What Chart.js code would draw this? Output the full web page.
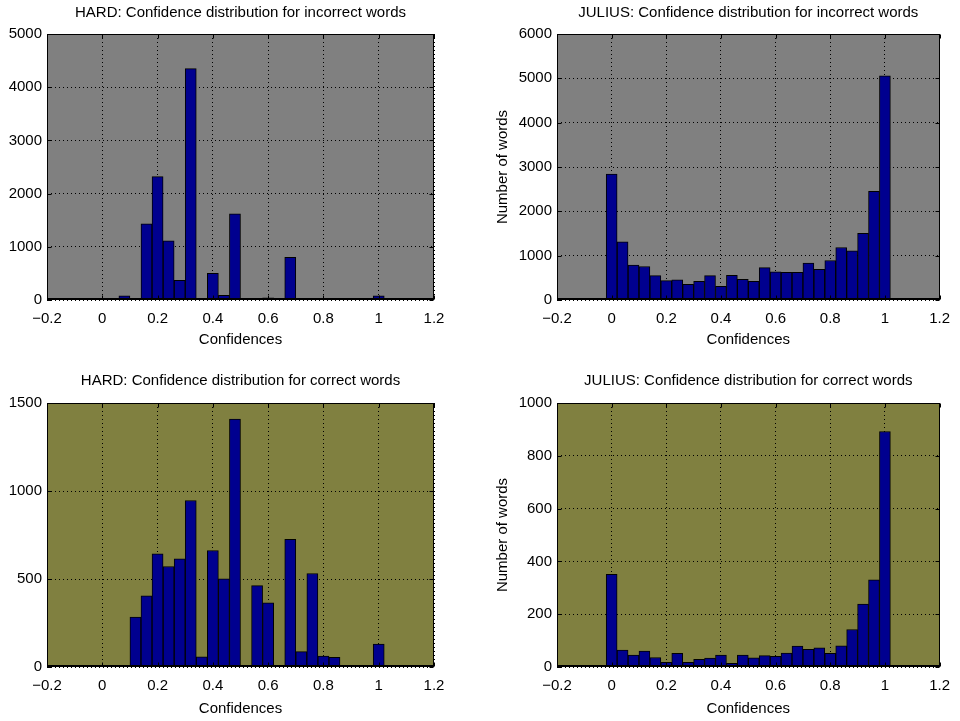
<!DOCTYPE html>
<html lang="en">
<head>
    <meta charset="UTF-8">
    <title>Confidence distributions: HARD vs JULIUS</title>
    <style>
        body {
            margin: 0;
            background: #fff;
            width: 960px;
            height: 721px;
            position: relative;
            overflow: hidden;
        }
        .panel {
            position: absolute;
        }
        canvas {
            display: block;
        }
    </style>
</head>
<body>
    <div class="panel" style="left:0;top:0"><canvas id="hardIncorrect" width="480" height="360"></canvas></div>
    <div class="panel" style="left:480px;top:0"><canvas id="juliusIncorrect" width="480" height="360"></canvas></div>
    <div class="panel" style="left:0;top:360px"><canvas id="hardCorrect" width="480" height="361"></canvas></div>
    <div class="panel" style="left:480px;top:360px"><canvas id="juliusCorrect" width="480" height="361"></canvas></div>

    <script src="https://cdn.jsdelivr.net/npm/chart.js"></script>
    <script>
        // histogram bin centres (bin width 0.04)
        const binCenters = [0, 0.04, 0.08, 0.12, 0.16, 0.2, 0.24, 0.28, 0.32, 0.36, 0.4, 0.44, 0.48,
                            0.52, 0.56, 0.6, 0.64, 0.68, 0.72, 0.76, 0.8, 0.84, 0.88, 0.92, 0.96, 1];

        // word counts per bin
        const hardIncorrect = [0, 0, 80, 25, 1430, 2320, 1110, 370, 4350, 0, 500, 90, 1620,
                               0, 0, 40, 0, 800, 0, 8, 0, 0, 0, 0, 0, 80];
        const juliusIncorrect = [2840, 1310, 790, 755, 550, 438, 453, 355, 423, 551, 309, 558, 468,
                                 423, 732, 634, 626, 626, 830, 694, 890, 1185, 1109, 1502, 2453, 5057];
        const hardCorrect = [0, 3, 10, 283, 405, 643, 571, 614, 946, 58, 662, 501, 1408,
                             0, 462, 364, 8, 726, 87, 531, 62, 55, 0, 0, 0, 130];
        const juliusCorrect = [351, 64, 45, 60, 36, 18, 52, 18, 29, 34, 45, 14, 45,
                               35, 43, 40, 53, 79, 67, 73, 52, 80, 142, 238, 330, 892];

        // axis ticks
        const xTicks = [-0.2, 0, 0.2, 0.4, 0.6, 0.8, 1, 1.2];
        const hardIncorrectTicks = [0, 1000, 2000, 3000, 4000, 5000];
        const juliusIncorrectTicks = [0, 1000, 2000, 3000, 4000, 5000, 6000];
        const hardCorrectTicks = [0, 500, 1000, 1500];
        const juliusCorrectTicks = [0, 200, 400, 600, 800, 1000];

        Chart.defaults.font.family = "'Liberation Sans', Arial, Helvetica, sans-serif";
        Chart.defaults.font.size = 15;
        Chart.defaults.color = '#000';

        // axes background, box and inward tick marks (matlab look)
        const frame = {
            id: 'frame',
            beforeDraw(chart, args, opts) {
                const { ctx, chartArea: a } = chart;
                ctx.save();
                ctx.fillStyle = opts.color;
                ctx.fillRect(a.left, a.top, a.width, a.height);
                ctx.restore();
            },
            afterDatasetsDraw(chart) {
                const { ctx, chartArea: a, scales } = chart;
                const L = Math.round(a.left) + 0.5, R = Math.round(a.right) - 0.5;
                const T = Math.round(a.top) + 0.5, B = Math.round(a.bottom) - 0.5;
                ctx.save();
                ctx.strokeStyle = '#000';
                ctx.lineWidth = 1;
                ctx.beginPath();
                scales.x.ticks.forEach(t => {
                    const px = Math.round(scales.x.getPixelForValue(t.value)) + 0.5;
                    ctx.moveTo(px, B); ctx.lineTo(px, B - 4);
                    ctx.moveTo(px, T); ctx.lineTo(px, T + 4);
                });
                scales.y.ticks.forEach(t => {
                    const py = Math.round(scales.y.getPixelForValue(t.value)) + 0.5;
                    ctx.moveTo(L, py); ctx.lineTo(L + 4, py);
                    ctx.moveTo(R, py); ctx.lineTo(R - 4, py);
                });
                ctx.stroke();
                ctx.strokeRect(L, T, R - L, B - T);
                // heavier baseline
                ctx.beginPath();
                ctx.lineWidth = 2;
                ctx.moveTo(L, Math.round(a.bottom) - 1);
                ctx.lineTo(R, Math.round(a.bottom) - 1);
                ctx.stroke();
                ctx.restore();
            }
        };

        function fmtX(v) {
            return (Math.round(v * 10) / 10).toString().replace('-', '\u2212');
        }

        function makeChart(id, title, values, yTicks, bg, yTitle, g) {
            const ctx = document.getElementById(id).getContext('2d');
            return new Chart(ctx, {
                type: 'bar',
                data: {
                    datasets: [{
                        data: binCenters.map((c, i) => ({ x: c, y: values[i] })),
                        backgroundColor: '#00008f',
                        borderColor: '#000',
                        borderWidth: 1,
                        barPercentage: 1,
                        categoryPercentage: 1
                    }]
                },
                options: {
                    responsive: false,
                    animation: false,
                    events: [],
                    layout: { padding: { left: 0, right: g.padRight, top: 0, bottom: 0 } },
                    plugins: {
                        legend: { display: false },
                        tooltip: { enabled: false },
                        title: {
                            display: true,
                            text: title,
                            fullSize: false,
                            color: '#000',
                            font: { size: 15, weight: 'normal' },
                            padding: { top: g.titleTop, bottom: g.titleBottom }
                        },
                        frame: { color: bg }
                    },
                    scales: {
                        x: {
                            type: 'linear',
                            min: -0.2,
                            max: 1.2,
                            offset: false,
                            afterBuildTicks: s => { s.ticks = xTicks.map(v => ({ value: v })); },
                            afterFit: s => { s.height = g.xHeight; },
                            grid: { offset: false, color: '#000', lineWidth: 1, drawTicks: false },
                            border: { display: false, dash: [1, 3] },
                            ticks: { padding: 10, maxRotation: 0, autoSkip: false, callback: fmtX },
                            title: {
                                display: true,
                                text: 'Confidences',
                                color: '#000',
                                padding: { top: 0, bottom: g.xTitleBottom }
                            }
                        },
                        y: {
                            min: 0,
                            max: yTicks[yTicks.length - 1],
                            afterBuildTicks: s => { s.ticks = yTicks.map(v => ({ value: v })); },
                            afterFit: s => { s.width = g.yWidth; },
                            grid: { color: '#000', lineWidth: 1, drawTicks: false },
                            border: { display: false, dash: [1, 3] },
                            ticks: { padding: 5, callback: v => String(v) },
                            title: {
                                display: !!yTitle,
                                text: yTitle || '',
                                color: '#000',
                                padding: { top: 14, bottom: 0 }
                            }
                        }
                    }
                },
                plugins: [frame]
            });
        }

        const topLeft = { padRight: 46, yWidth: 47, titleTop: 4, titleBottom: 12, xHeight: 60, xTitleBottom: 11 };
        const topRight = { padRight: 16, yWidth: 77, titleTop: 4, titleBottom: 12, xHeight: 60, xTitleBottom: 11 };
        const botLeft = { padRight: 46, yWidth: 47, titleTop: 12, titleBottom: 13, xHeight: 54, xTitleBottom: 3 };
        const botRight = { padRight: 16, yWidth: 77, titleTop: 12, titleBottom: 13, xHeight: 54, xTitleBottom: 3 };

        makeChart('hardIncorrect', 'HARD: Confidence distribution for incorrect words',
                  hardIncorrect, hardIncorrectTicks, '#808080', null, topLeft);
        makeChart('juliusIncorrect', 'JULIUS: Confidence distribution for incorrect words',
                  juliusIncorrect, juliusIncorrectTicks, '#808080', 'Number of words', topRight);
        makeChart('hardCorrect', 'HARD: Confidence distribution for correct words',
                  hardCorrect, hardCorrectTicks, '#808040', null, botLeft);
        makeChart('juliusCorrect', 'JULIUS: Confidence distribution for correct words',
                  juliusCorrect, juliusCorrectTicks, '#808040', 'Number of words', botRight);
    </script>
</body>
</html>
